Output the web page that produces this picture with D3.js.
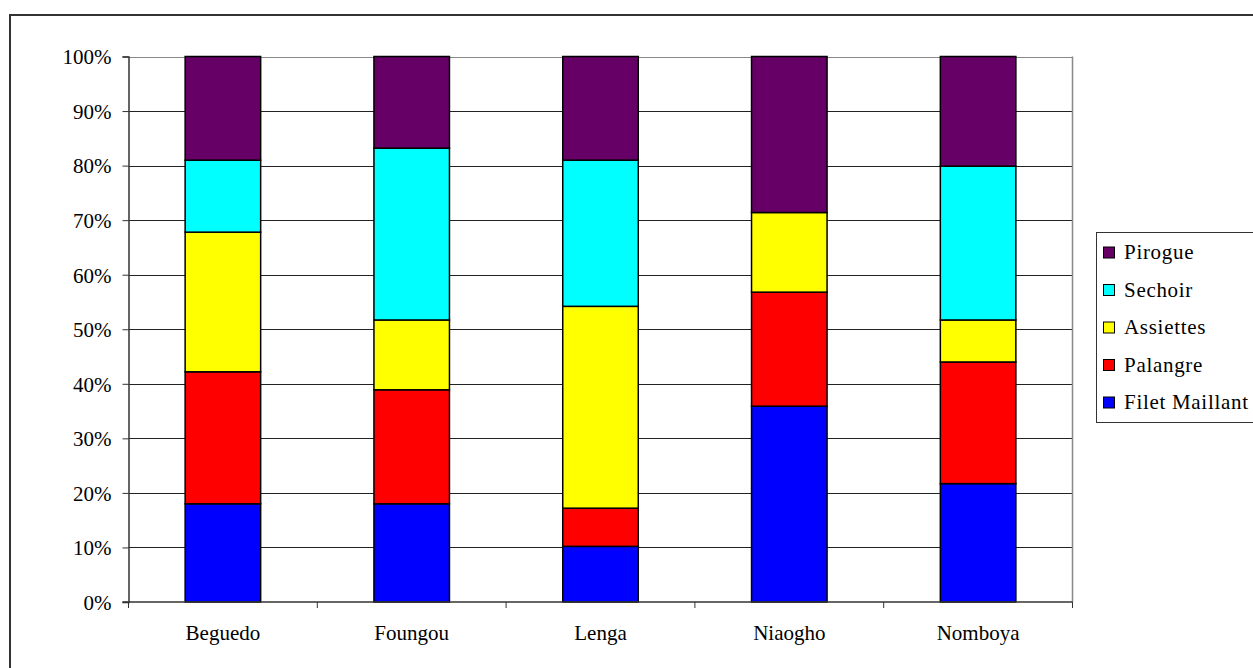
<!DOCTYPE html>
<html>
<head>
<meta charset="utf-8">
<script src="https://cdn.jsdelivr.net/npm/d3@7"></script>
<style>
  html, body { margin: 0; padding: 0; background: #fff; }
  svg { display: block; }
  text { font-family: "Liberation Serif", "Times New Roman", serif !important; fill: #000; }
</style>
</head>
<body>
<svg id="chart" width="1253" height="668"></svg>
<script>
const categories = ["Beguedo", "Foungou", "Lenga", "Niaogho", "Nomboya"];
const seriesNames = ["Filet Maillant", "Palangre", "Assiettes", "Sechoir", "Pirogue"];
const filetMaillant = [18.0, 18.0, 10.2, 35.9, 21.7];
const palangre      = [24.2, 20.9, 7.0, 20.9, 22.3];
const assiettes     = [25.6, 12.8, 37.0, 14.6, 7.7];
const sechoir       = [13.2, 31.5, 26.8, 0.0, 28.2];
const pirogue       = [19.0, 16.8, 19.0, 28.6, 20.1];
const seriesColors  = ["#0000ff", "#ff0000", "#ffff00", "#00ffff", "#660066"];
const yTickLabels   = ["0%", "10%", "20%", "30%", "40%", "50%", "60%", "70%", "80%", "90%", "100%"];

const seriesValues = [filetMaillant, palangre, assiettes, sechoir, pirogue];
const rows = categories.map((c, i) => {
  const r = { category: c };
  seriesNames.forEach((s, j) => r[s] = seriesValues[j][i]);
  return r;
});

const FONT = '"Liberation Serif", "Times New Roman", serif';
const svg = d3.select("#chart");
const plot = { left: 128.5, top: 56.5, right: 1072.5, bottom: 602 };

// outer chart border (extends beyond the viewport on right/bottom)
svg.append("rect")
  .attr("x", 10).attr("y", 15).attr("width", 1300).attr("height", 700)
  .attr("fill", "none").attr("stroke", "#333").attr("stroke-width", 2);

const x = d3.scaleBand().domain(categories).range([plot.left, plot.right]).paddingInner(0.6).paddingOuter(0.3);
const xOuter = d3.scaleBand().domain(categories).range([plot.left, plot.right]).padding(0);
const y = d3.scaleLinear().domain([0, 1]).range([plot.bottom, plot.top]);

// gridlines
svg.append("g").selectAll("line")
  .data(d3.range(1, 11).map(d => d / 10))
  .join("line")
  .attr("x1", plot.left).attr("x2", plot.right)
  .attr("y1", d => Math.round(y(d)) + 0.5).attr("y2", d => Math.round(y(d)) + 0.5)
  .attr("stroke", d => d === 1 ? "#888" : "#222").attr("stroke-width", 1);

// right plot border
svg.append("line")
  .attr("x1", plot.right).attr("x2", plot.right)
  .attr("y1", plot.top).attr("y2", plot.bottom)
  .attr("stroke", "#888").attr("stroke-width", 1.5);

// stacked bars
const stack = d3.stack().keys(seriesNames).offset(d3.stackOffsetExpand);
const stacked = stack(rows);
const barGroups = svg.append("g").selectAll("g")
  .data(stacked)
  .join("g")
  .attr("fill", (d, i) => seriesColors[i]);
barGroups.selectAll("rect")
  .data(d => d.filter(p => p[1] - p[0] > 0))
  .join("rect")
  .attr("x", d => x(d.data.category))
  .attr("width", x.bandwidth())
  .attr("y", d => y(d[1]))
  .attr("height", d => y(d[0]) - y(d[1]))
  .attr("stroke", "#000").attr("stroke-width", 1.5);

// y axis
const yAxis = d3.axisLeft(y)
  .tickValues(d3.range(0, 11).map(d => d / 10))
  .tickFormat((d, i) => yTickLabels[i])
  .tickSize(6).tickPadding(11);
const gy = svg.append("g").attr("transform", `translate(${plot.left},0)`).call(yAxis);
gy.attr("font-family", null).attr("font-size", null);
gy.select(".domain").attr("stroke", "#333").attr("stroke-width", 1.5);
gy.selectAll(".tick line").attr("stroke", "#333");
gy.selectAll(".tick text").style("font-size", "21px").style("font-family", FONT).attr("dy", "0.35em");

// x axis
const gx = svg.append("g").attr("transform", `translate(0,${plot.bottom})`);
gx.append("line").attr("x1", plot.left - 6).attr("x2", plot.right)
  .attr("y1", 0).attr("y2", 0).attr("stroke", "#333").attr("stroke-width", 1.5);
const boundaries = categories.map(c => xOuter(c)).concat([plot.right]);
gx.selectAll("line.tk").data(boundaries).join("line").attr("class", "tk")
  .attr("x1", d => d).attr("x2", d => d).attr("y1", 0).attr("y2", 6)
  .attr("stroke", "#333");
gx.selectAll("text").data(categories).join("text")
  .attr("x", d => xOuter(d) + xOuter.bandwidth() / 2)
  .attr("y", 38)
  .attr("text-anchor", "middle")
  .style("font-size", "21px").style("font-family", FONT)
  .text(d => d);

// legend
const legend = svg.append("g");
legend.append("rect")
  .attr("x", 1096.5).attr("y", 232.5).attr("width", 170).attr("height", 190)
  .attr("fill", "#fff").attr("stroke", "#333").attr("stroke-width", 1);
const legendOrder = seriesNames.map((s, i) => ({ name: s, color: seriesColors[i] })).reverse();
const li = legend.selectAll("g.item").data(legendOrder).join("g").attr("class", "item")
  .attr("transform", (d, i) => `translate(0,${252.5 + i * 37.5})`);
li.append("rect").attr("x", 1103.5).attr("y", -5.5).attr("width", 11).attr("height", 11)
  .attr("fill", d => d.color).attr("stroke", "#000").attr("stroke-width", 1);
li.append("text").attr("x", 1124).attr("y", 0).attr("dy", "0.33em")
  .style("font-size", "21px").style("font-family", FONT).attr("letter-spacing", 0.7)
  .text(d => d.name);
</script>
</body>
</html>
